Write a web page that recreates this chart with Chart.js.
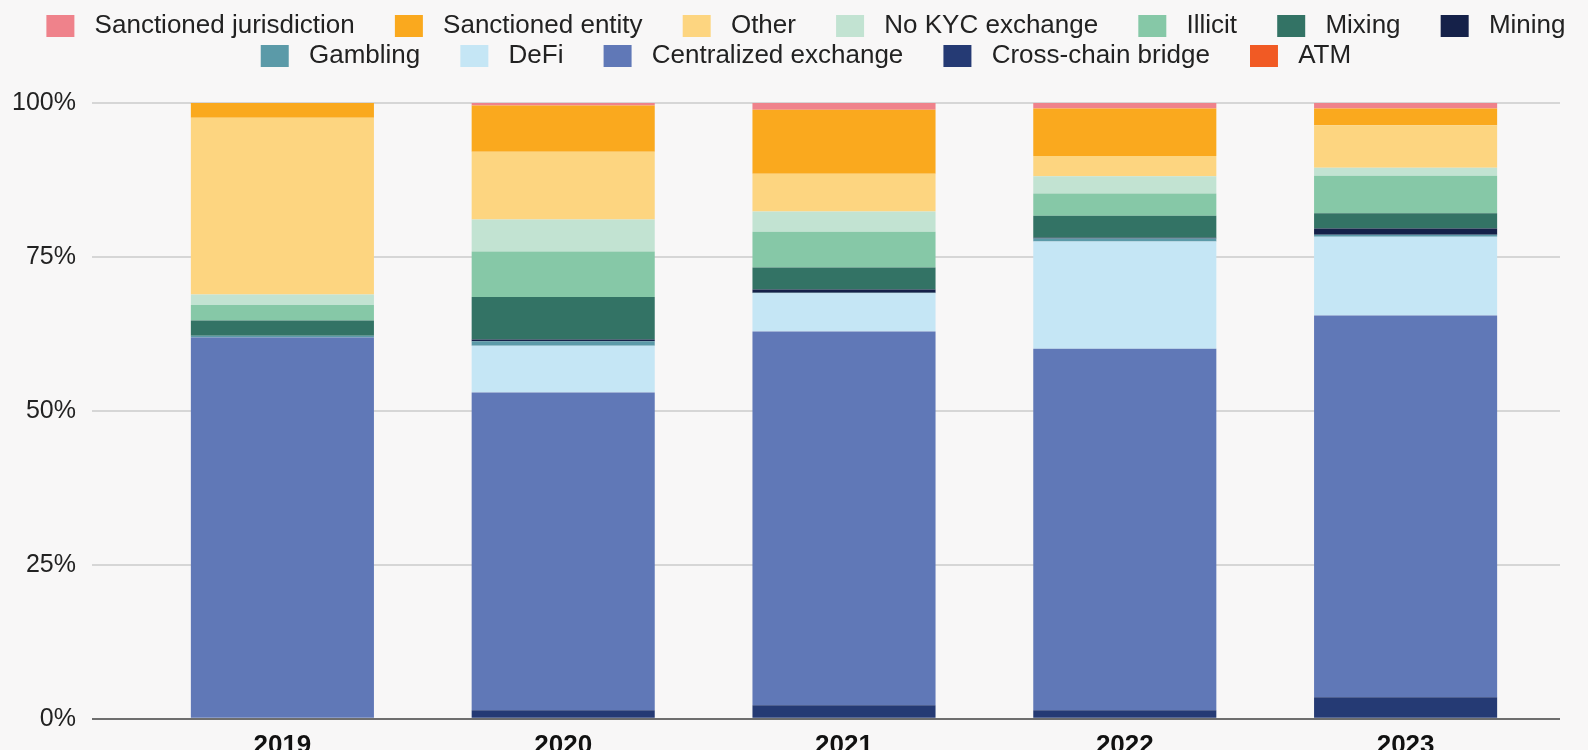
<!DOCTYPE html>
<html lang="en">
<head>
    <meta charset="UTF-8">
    <title>Destination of funds by year</title>
    <script src="https://cdn.jsdelivr.net/npm/chart.js"></script>
    <style>
        html, body {
            margin: 0;
            padding: 0;
            overflow: hidden;
            background-color: #f8f7f7;
        }

        /* a little taller than the window so the year labels get cut at the bottom like the source */
        #chartBox {
            position: relative;
            width: 1588px;
            height: 764px;
        }
    </style>
</head>
<body>
    <div id="chartBox">
        <canvas id="flowChart"></canvas>
    </div>

    <script>
        const years = ['2019', '2020', '2021', '2022', '2023'];
        const yTicks = [0, 25, 50, 75, 100];

        // share of funds (%) per destination, bottom of the stack first
        const atm = [0, 0, 0, 0, 0];
        const crossChainBridge = [0, 1.4, 2.2, 1.4, 3.5];
        const centralizedExchange = [61.9, 51.6, 60.7, 58.7, 62.0];
        const defi = [0, 7.6, 6.2, 17.4, 12.8];
        const gambling = [0.3, 0.7, 0.1, 0.5, 0.3];
        const mining = [0, 0.3, 0.5, 0.1, 1.0];
        const mixing = [2.5, 6.9, 3.6, 3.6, 2.5];
        const illicit = [2.5, 7.4, 5.8, 3.6, 6.1];
        const noKycExchange = [1.7, 5.2, 3.3, 2.8, 1.3];
        const other = [28.7, 11.0, 6.1, 3.3, 6.9];
        const sanctionedEntity = [2.4, 7.5, 10.4, 7.7, 2.7];
        const sanctionedJurisdiction = [0, 0.4, 1.1, 0.9, 0.9];

        Chart.defaults.font.family = "'Liberation Sans', Arial, sans-serif";
        Chart.defaults.color = '#222';

        function series(label, data, color) {
            return {
                label: label,
                data: data,
                backgroundColor: color,
                borderWidth: 0,
                barPercentage: 0.652,
                categoryPercentage: 1.0,
            };
        }

        function gridColor(c) {
            return c.tick && c.tick.value === 0 ? '#6e6e6e' : '#d6d6d6';
        }

        // push the plot down below the two legend rows, and nudge the legend
        // right to undo the trailing spaces used as item gaps
        const legendTweak = {
            id: 'legendTweak',
            beforeInit(chart) {
                const fit = chart.legend.fit;
                chart.legend.fit = function () {
                    fit.bind(chart.legend)();
                    this.height += 24;
                };
            },
            afterLayout(chart) {
                chart.legend.left += 30;
                chart.legend.right += 30;
            }
        };

        const ctx = document.getElementById('flowChart').getContext('2d');
        new Chart(ctx, {
            type: 'bar',
            data: {
                labels: years,
                datasets: [
                    series('ATM', atm, '#f15a24'),
                    series('Cross-chain bridge', crossChainBridge, '#253a74'),
                    series('Centralized exchange', centralizedExchange, '#6078b7'),
                    series('DeFi', defi, '#c5e6f5'),
                    series('Gambling', gambling, '#5b9aa8'),
                    series('Mining', mining, '#152149'),
                    series('Mixing', mixing, '#337365'),
                    series('Illicit', illicit, '#86c8a7'),
                    series('No KYC exchange', noKycExchange, '#c2e3d2'),
                    series('Other', other, '#fdd580'),
                    series('Sanctioned entity', sanctionedEntity, '#faa91e'),
                    series('Sanctioned jurisdiction', sanctionedJurisdiction, '#ef828b'),
                ],
            },
            options: {
                responsive: true,
                maintainAspectRatio: false,
                animation: false,
                layout: {
                    padding: { top: 9, left: 0, right: 0, bottom: 0 },
                },
                plugins: {
                    tooltip: { enabled: false },
                    legend: {
                        position: 'top',
                        reverse: true,
                        labels: {
                            boxWidth: 28,
                            boxHeight: 22,
                            padding: 4,
                            color: '#222',
                            font: { size: 26 },
                            generateLabels(chart) {
                                const items = Chart.defaults.plugins.legend.labels.generateLabels(chart);
                                items.forEach(item => {
                                    item.text = ' ' + item.text + '     ';
                                    item.lineWidth = 0;
                                });
                                return items;
                            },
                        },
                    },
                },
                scales: {
                    x: {
                        stacked: true,
                        grid: { display: false },
                        border: { display: false },
                        ticks: {
                            color: '#111',
                            padding: 3,
                            font: { size: 26, weight: 'bold' },
                        },
                    },
                    y: {
                        stacked: true,
                        min: 0,
                        max: 100,
                        afterBuildTicks(scale) {
                            scale.ticks = yTicks.map(v => ({ value: v }));
                        },
                        afterFit(scale) {
                            scale.width = 142;
                        },
                        border: { display: false },
                        grid: {
                            lineWidth: 2,
                            tickLength: 50,
                            color: gridColor,
                        },
                        ticks: {
                            padding: 16,
                            color: '#222',
                            font: { size: 25 },
                            callback: v => v + '%',
                        },
                    },
                    // only here so the gridlines run a little past the last bar, as in the source
                    yRight: {
                        position: 'right',
                        min: 0,
                        max: 100,
                        afterBuildTicks(scale) {
                            scale.ticks = yTicks.map(v => ({ value: v }));
                        },
                        afterFit(scale) {
                            scale.width = 42;
                        },
                        border: { display: false },
                        grid: {
                            drawOnChartArea: false,
                            lineWidth: 2,
                            tickLength: 14,
                            color: gridColor,
                        },
                        ticks: { display: false },
                    },
                },
            },
            plugins: [legendTweak],
        });
    </script>
</body>
</html>
